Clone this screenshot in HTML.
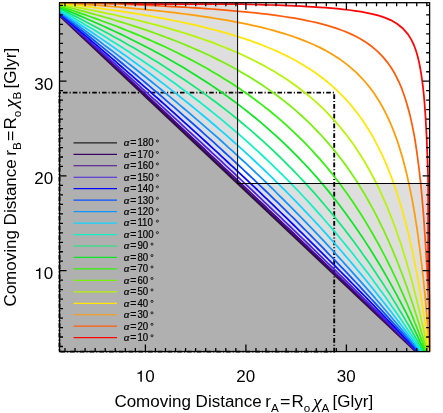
<!DOCTYPE html>
<html><head><meta charset="utf-8"><title>plot</title>
<style>html,body{margin:0;padding:0;background:#fff;width:443px;height:413px;overflow:hidden;font-family:"Liberation Sans",sans-serif}</style></head>
<body>
<svg width="443" height="413" viewBox="0 0 443 413" style="position:absolute;left:0;top:0;will-change:transform">
<defs><clipPath id="cp"><rect x="59.5" y="2.1" width="370.70" height="349.50"/></clipPath></defs>
<rect x="0" y="0" width="443" height="413" fill="#fff"/>
<g clip-path="url(#cp)">
<rect x="59.5" y="2.7" width="370.10" height="348.90" fill="#dedede"/>
<rect x="237.6" y="2.7" width="192.00" height="180.80" fill="#fff"/>
<polygon points="44.90,1.61 430.82,365.45 44.90,365.45" fill="#b0b0b0"/>
</g>
<path d="M59.5,92.6 H334.2 V351.6 H59.5 Z" fill="none" stroke="#000" stroke-width="1.9" stroke-dasharray="4.6,2.0,1.1,2.05" stroke-dashoffset="6.28"/>
<g clip-path="url(#cp)">
<path d="M44.9,1.6L430.8,365.4" fill="none" stroke="#202020" stroke-width="2.25" stroke-linejoin="round"/>
<path d="M48.1,4.6L51.3,7.6L54.6,10.7L57.8,13.7L61.0,16.7L64.2,19.7L67.5,22.7L70.7,25.7L73.9,28.8L77.1,31.8L80.3,34.8L83.6,37.8L86.8,40.8L90.0,43.9L93.2,46.9L96.5,49.9L99.7,52.9L102.9,55.9L106.1,59.0L109.4,62.0L112.6,65.0L115.8,68.0L119.0,71.0L122.2,74.1L125.5,77.1L128.7,80.1L131.9,83.1L135.1,86.2L138.4,89.2L141.6,92.2L144.8,95.2L148.0,98.3L151.2,101.3L154.5,104.3L157.7,107.3L160.9,110.4L164.1,113.4L167.4,116.4L170.6,119.5L173.8,122.5L177.0,125.5L180.2,128.5L183.5,131.6L186.7,134.6L189.9,137.6L193.1,140.7L196.4,143.7L199.6,146.7L202.8,149.8L206.0,152.8L209.2,155.8L212.5,158.9L215.7,161.9L218.9,164.9L222.1,168.0L225.4,171.0L228.6,174.0L231.8,177.1L235.0,180.1L238.3,183.2L241.5,186.2L244.7,189.2L247.9,192.3L251.1,195.3L254.4,198.4L257.6,201.4L260.8,204.4L264.0,207.5L267.2,210.5L270.5,213.5L273.7,216.6L276.9,219.6L280.1,222.7L283.3,225.7L286.5,228.7L289.8,231.8L293.0,234.8L296.2,237.8L299.4,240.9L302.6,243.9L305.8,247.0L309.0,250.0L312.2,253.0L315.5,256.1L318.7,259.1L321.9,262.2L325.1,265.2L328.3,268.2L331.5,271.3L334.7,274.3L337.9,277.3L341.1,280.4L344.3,283.4L347.6,286.5L350.8,289.5L354.0,292.5L357.2,295.6L360.4,298.6L363.6,301.6L366.8,304.7L370.0,307.7L373.2,310.8L376.4,313.8L379.6,316.8L382.8,319.9L386.0,322.9L389.2,326.0L392.4,329.0L395.6,332.0L398.8,335.1L402.0,338.1L405.2,341.1L408.4,344.2L411.6,347.2L414.8,350.3L418.0,353.3L421.2,356.3L424.4,359.4L427.6,362.4" fill="none" stroke="#390562" stroke-width="1.75" stroke-linejoin="round"/>
<path d="M48.1,4.6L51.4,7.5L54.6,10.5L57.9,13.5L61.1,16.4L64.4,19.4L67.6,22.4L70.8,25.4L74.1,28.3L77.3,31.3L80.6,34.3L83.8,37.3L87.0,40.3L90.3,43.2L93.5,46.2L96.8,49.2L100.0,52.2L103.3,55.2L106.5,58.2L109.7,61.1L113.0,64.1L116.2,67.1L119.5,70.1L122.7,73.1L126.0,76.1L129.2,79.1L132.4,82.1L135.7,85.1L138.9,88.1L142.2,91.1L145.4,94.1L148.6,97.1L151.9,100.2L155.1,103.2L158.4,106.2L161.6,109.2L164.9,112.2L168.1,115.2L171.3,118.2L174.6,121.3L177.8,124.3L181.1,127.3L184.3,130.3L187.6,133.4L190.8,136.4L194.0,139.4L197.3,142.5L200.5,145.5L203.8,148.5L207.0,151.6L210.2,154.6L213.5,157.7L216.7,160.7L220.0,163.7L223.2,166.8L226.5,169.8L229.7,172.9L232.9,175.9L236.2,179.0L239.4,182.1L242.7,185.1L245.9,188.2L249.1,191.2L252.4,194.3L255.6,197.3L258.8,200.4L262.1,203.4L265.3,206.5L268.5,209.6L271.8,212.6L275.0,215.7L278.2,218.7L281.4,221.8L284.6,224.8L287.9,227.9L291.1,231.0L294.3,234.0L297.5,237.1L300.7,240.1L303.9,243.2L307.1,246.2L310.3,249.3L313.5,252.4L316.7,255.4L319.9,258.5L323.1,261.5L326.3,264.6L329.5,267.6L332.7,270.7L335.9,273.8L339.1,276.8L342.2,279.9L345.4,282.9L348.6,286.0L351.8,289.0L355.0,292.1L358.1,295.1L361.3,298.2L364.5,301.3L367.7,304.3L370.8,307.4L374.0,310.4L377.2,313.5L380.3,316.5L383.5,319.6L386.7,322.7L389.8,325.7L393.0,328.8L396.2,331.8L399.3,334.9L402.5,337.9L405.6,341.0L408.8,344.1L411.9,347.1L415.1,350.2L418.2,353.2L421.4,356.3L424.5,359.3L427.7,362.4" fill="none" stroke="#480890" stroke-width="1.75" stroke-linejoin="round"/>
<path d="M48.2,4.5L51.5,7.4L54.7,10.3L58.0,13.2L61.3,16.0L64.6,18.9L67.8,21.8L71.1,24.7L74.4,27.6L77.7,30.6L80.9,33.5L84.2,36.4L87.5,39.3L90.8,42.2L94.0,45.1L97.3,48.0L100.6,51.0L103.9,53.9L107.1,56.8L110.4,59.8L113.7,62.7L117.0,65.7L120.2,68.6L123.5,71.6L126.8,74.5L130.1,77.5L133.3,80.4L136.6,83.4L139.9,86.4L143.2,89.3L146.4,92.3L149.7,95.3L153.0,98.3L156.3,101.2L159.5,104.2L162.8,107.2L166.1,110.2L169.4,113.2L172.6,116.2L175.9,119.2L179.2,122.2L182.5,125.3L185.7,128.3L189.0,131.3L192.3,134.3L195.6,137.3L198.8,140.4L202.1,143.4L205.4,146.5L208.7,149.5L211.9,152.6L215.2,155.6L218.5,158.7L221.8,161.7L225.0,164.8L228.3,167.9L231.6,170.9L234.9,174.0L238.1,177.1L241.4,180.2L244.7,183.3L248.0,186.4L251.2,189.4L254.5,192.5L257.7,195.6L261.0,198.7L264.2,201.8L267.5,204.9L270.7,208.0L274.0,211.1L277.2,214.1L280.4,217.2L283.6,220.3L286.8,223.4L290.1,226.5L293.3,229.6L296.5,232.7L299.7,235.8L302.9,238.8L306.1,241.9L309.3,245.0L312.4,248.1L315.6,251.2L318.8,254.3L322.0,257.4L325.1,260.5L328.3,263.6L331.5,266.6L334.6,269.7L337.8,272.8L340.9,275.9L344.1,279.0L347.2,282.1L350.4,285.2L353.5,288.3L356.6,291.3L359.8,294.4L362.9,297.5L366.0,300.6L369.1,303.7L372.2,306.8L375.3,309.9L378.5,313.0L381.6,316.0L384.7,319.1L387.8,322.2L390.9,325.3L393.9,328.4L397.0,331.5L400.1,334.6L403.2,337.7L406.3,340.7L409.4,343.8L412.4,346.9L415.5,350.0L418.6,353.1L421.6,356.2L424.7,359.3L427.8,362.4" fill="none" stroke="#4a22e0" stroke-width="1.75" stroke-linejoin="round"/>
<path d="M48.2,4.4L51.5,7.2L54.9,9.9L58.2,12.7L61.5,15.5L64.8,18.3L68.2,21.1L71.5,23.9L74.8,26.7L78.1,29.5L81.4,32.3L84.8,35.1L88.1,37.9L91.4,40.8L94.7,43.6L98.1,46.4L101.4,49.3L104.7,52.1L108.0,55.0L111.3,57.9L114.7,60.7L118.0,63.6L121.3,66.5L124.6,69.4L128.0,72.3L131.3,75.1L134.6,78.1L137.9,81.0L141.2,83.9L144.6,86.8L147.9,89.7L151.2,92.7L154.5,95.6L157.9,98.5L161.2,101.5L164.5,104.4L167.8,107.4L171.1,110.4L174.5,113.4L177.8,116.3L181.1,119.3L184.4,122.3L187.8,125.3L191.1,128.4L194.4,131.4L197.7,134.4L201.0,137.4L204.4,140.5L207.7,143.5L211.0,146.6L214.3,149.6L217.7,152.7L221.0,155.8L224.3,158.9L227.6,162.0L230.9,165.1L234.3,168.2L237.6,171.3L240.9,174.4L244.2,177.5L247.6,180.7L250.9,183.8L254.2,186.9L257.5,190.0L260.7,193.2L264.0,196.3L267.3,199.4L270.6,202.6L273.8,205.7L277.1,208.8L280.3,212.0L283.5,215.1L286.8,218.2L290.0,221.4L293.2,224.5L296.4,227.6L299.6,230.8L302.8,233.9L305.9,237.0L309.1,240.2L312.3,243.3L315.4,246.4L318.6,249.6L321.7,252.7L324.9,255.8L328.0,259.0L331.1,262.1L334.3,265.2L337.4,268.4L340.5,271.5L343.6,274.6L346.7,277.7L349.7,280.9L352.8,284.0L355.9,287.1L359.0,290.3L362.0,293.4L365.1,296.5L368.1,299.7L371.2,302.8L374.2,305.9L377.2,309.1L380.2,312.2L383.3,315.3L386.3,318.5L389.3,321.6L392.3,324.7L395.3,327.9L398.3,331.0L401.2,334.1L404.2,337.3L407.2,340.4L410.2,343.5L413.1,346.7L416.1,349.8L419.0,352.9L422.0,356.1L424.9,359.2L427.9,362.3" fill="none" stroke="#0606ff" stroke-width="1.75" stroke-linejoin="round"/>
<path d="M48.3,4.2L51.7,6.9L55.1,9.5L58.4,12.1L61.8,14.8L65.2,17.4L68.6,20.1L72.0,22.8L75.4,25.5L78.7,28.1L82.1,30.8L85.5,33.5L88.9,36.2L92.3,39.0L95.7,41.7L99.0,44.4L102.4,47.1L105.8,49.9L109.2,52.6L112.6,55.4L116.0,58.2L119.3,61.0L122.7,63.8L126.1,66.6L129.5,69.4L132.9,72.2L136.3,75.0L139.6,77.8L143.0,80.7L146.4,83.5L149.8,86.4L153.2,89.3L156.6,92.1L160.0,95.0L163.3,97.9L166.7,100.9L170.1,103.8L173.5,106.7L176.9,109.6L180.3,112.6L183.6,115.6L187.0,118.5L190.4,121.5L193.8,124.5L197.2,127.5L200.6,130.5L203.9,133.6L207.3,136.6L210.7,139.7L214.1,142.7L217.5,145.8L220.9,148.9L224.2,152.0L227.6,155.1L231.0,158.2L234.4,161.4L237.8,164.5L241.2,167.7L244.6,170.8L247.9,174.0L251.3,177.2L254.7,180.4L258.0,183.6L261.4,186.8L264.7,190.0L268.0,193.2L271.3,196.4L274.6,199.6L277.9,202.7L281.1,205.9L284.4,209.1L287.6,212.3L290.8,215.5L294.1,218.7L297.3,221.9L300.4,225.1L303.6,228.3L306.8,231.5L309.9,234.6L313.1,237.8L316.2,241.0L319.3,244.2L322.5,247.4L325.6,250.6L328.6,253.8L331.7,257.0L334.8,260.2L337.8,263.4L340.9,266.6L343.9,269.7L347.0,272.9L350.0,276.1L353.0,279.3L356.0,282.5L359.0,285.7L361.9,288.9L364.9,292.1L367.9,295.3L370.8,298.5L373.8,301.6L376.7,304.8L379.6,308.0L382.5,311.2L385.4,314.4L388.3,317.6L391.2,320.8L394.1,324.0L397.0,327.2L399.8,330.4L402.7,333.5L405.5,336.7L408.4,339.9L411.2,343.1L414.0,346.3L416.8,349.5L419.6,352.7L422.5,355.9L425.2,359.1L428.0,362.3" fill="none" stroke="#0c52ff" stroke-width="1.75" stroke-linejoin="round"/>
<path d="M48.4,4.1L51.8,6.5L55.3,9.0L58.7,11.5L62.2,14.0L65.7,16.4L69.1,19.0L72.6,21.5L76.1,24.0L79.5,26.5L83.0,29.1L86.4,31.6L89.9,34.2L93.4,36.8L96.8,39.3L100.3,41.9L103.7,44.6L107.2,47.2L110.7,49.8L114.1,52.4L117.6,55.1L121.0,57.8L124.5,60.4L128.0,63.1L131.4,65.8L134.9,68.5L138.4,71.3L141.8,74.0L145.3,76.8L148.7,79.5L152.2,82.3L155.7,85.1L159.1,87.9L162.6,90.7L166.0,93.6L169.5,96.4L173.0,99.3L176.4,102.2L179.9,105.1L183.3,108.0L186.8,110.9L190.3,113.8L193.7,116.8L197.2,119.8L200.7,122.8L204.1,125.8L207.6,128.8L211.0,131.8L214.5,134.9L218.0,137.9L221.4,141.0L224.9,144.1L228.3,147.3L231.8,150.4L235.3,153.6L238.7,156.8L242.2,160.0L245.7,163.2L249.1,166.4L252.6,169.7L256.0,172.9L259.5,176.2L262.9,179.4L266.3,182.7L269.6,186.0L273.0,189.2L276.3,192.5L279.6,195.8L282.9,199.0L286.2,202.3L289.5,205.6L292.7,208.8L295.9,212.1L299.1,215.3L302.3,218.6L305.5,221.9L308.6,225.1L311.8,228.4L314.9,231.7L318.0,234.9L321.1,238.2L324.2,241.4L327.2,244.7L330.3,248.0L333.3,251.2L336.3,254.5L339.3,257.8L342.3,261.0L345.2,264.3L348.2,267.6L351.1,270.8L354.0,274.1L356.9,277.3L359.8,280.6L362.7,283.9L365.6,287.1L368.4,290.4L371.3,293.7L374.1,296.9L376.9,300.2L379.7,303.4L382.5,306.7L385.3,310.0L388.0,313.2L390.8,316.5L393.5,319.8L396.3,323.0L399.0,326.3L401.7,329.6L404.4,332.8L407.1,336.1L409.8,339.3L412.4,342.6L415.1,345.9L417.7,349.1L420.4,352.4L423.0,355.7L425.6,358.9L428.2,362.2" fill="none" stroke="#1294ff" stroke-width="1.75" stroke-linejoin="round"/>
<path d="M48.5,3.9L52.0,6.1L55.6,8.4L59.1,10.7L62.7,13.0L66.2,15.3L69.8,17.6L73.3,20.0L76.9,22.3L80.5,24.7L84.0,27.0L87.6,29.4L91.1,31.8L94.7,34.2L98.2,36.6L101.8,39.1L105.3,41.5L108.9,44.0L112.5,46.5L116.0,49.0L119.6,51.5L123.1,54.0L126.7,56.5L130.2,59.1L133.8,61.7L137.3,64.3L140.9,66.9L144.5,69.5L148.0,72.1L151.6,74.8L155.1,77.5L158.7,80.2L162.2,82.9L165.8,85.6L169.3,88.4L172.9,91.1L176.5,93.9L180.0,96.7L183.6,99.6L187.1,102.4L190.7,105.3L194.2,108.2L197.8,111.1L201.3,114.0L204.9,117.0L208.5,120.0L212.0,123.0L215.6,126.0L219.1,129.1L222.7,132.1L226.2,135.2L229.8,138.4L233.3,141.5L236.9,144.7L240.4,147.9L244.0,151.1L247.6,154.4L251.1,157.7L254.7,161.0L258.2,164.3L261.8,167.7L265.3,171.0L268.8,174.4L272.2,177.7L275.6,181.1L279.0,184.4L282.4,187.8L285.8,191.1L289.1,194.5L292.4,197.8L295.6,201.2L298.9,204.6L302.1,207.9L305.3,211.3L308.4,214.6L311.6,218.0L314.7,221.3L317.8,224.7L320.9,228.0L323.9,231.4L326.9,234.7L329.9,238.1L332.9,241.4L335.9,244.8L338.8,248.1L341.7,251.5L344.6,254.8L347.5,258.2L350.4,261.5L353.2,264.9L356.0,268.2L358.8,271.6L361.6,274.9L364.4,278.3L367.1,281.6L369.8,285.0L372.6,288.4L375.3,291.7L377.9,295.1L380.6,298.4L383.2,301.8L385.9,305.1L388.5,308.5L391.1,311.8L393.7,315.2L396.2,318.5L398.8,321.9L401.3,325.2L403.9,328.6L406.4,331.9L408.9,335.3L411.4,338.6L413.8,342.0L416.3,345.3L418.7,348.7L421.2,352.0L423.6,355.4L426.0,358.7L428.4,362.1" fill="none" stroke="#10d4ff" stroke-width="1.75" stroke-linejoin="round"/>
<path d="M48.6,3.6L52.2,5.7L55.9,7.8L59.6,9.8L63.2,11.9L66.9,14.0L70.6,16.1L74.2,18.3L77.9,20.4L81.6,22.6L85.2,24.7L88.9,26.9L92.6,29.1L96.3,31.3L99.9,33.6L103.6,35.8L107.3,38.1L110.9,40.4L114.6,42.7L118.3,45.0L121.9,47.3L125.6,49.7L129.3,52.1L132.9,54.5L136.6,56.9L140.3,59.3L143.9,61.8L147.6,64.3L151.3,66.8L154.9,69.3L158.6,71.9L162.3,74.4L165.9,77.0L169.6,79.7L173.3,82.3L177.0,85.0L180.6,87.7L184.3,90.4L188.0,93.1L191.6,95.9L195.3,98.7L199.0,101.5L202.6,104.4L206.3,107.3L210.0,110.2L213.6,113.1L217.3,116.1L221.0,119.1L224.6,122.2L228.3,125.3L232.0,128.4L235.6,131.5L239.3,134.7L243.0,137.9L246.6,141.1L250.3,144.4L254.0,147.8L257.7,151.1L261.3,154.5L265.0,158.0L268.6,161.4L272.2,164.9L275.8,168.3L279.3,171.8L282.8,175.2L286.3,178.7L289.7,182.2L293.0,185.6L296.4,189.1L299.7,192.5L302.9,196.0L306.2,199.5L309.4,202.9L312.5,206.4L315.6,209.8L318.7,213.3L321.8,216.7L324.8,220.2L327.8,223.7L330.8,227.1L333.7,230.6L336.7,234.0L339.5,237.5L342.4,241.0L345.2,244.4L348.0,247.9L350.8,251.3L353.6,254.8L356.3,258.2L359.0,261.7L361.7,265.2L364.3,268.6L367.0,272.1L369.6,275.5L372.2,279.0L374.7,282.5L377.3,285.9L379.8,289.4L382.3,292.8L384.8,296.3L387.3,299.7L389.7,303.2L392.1,306.7L394.5,310.1L396.9,313.6L399.3,317.0L401.6,320.5L404.0,324.0L406.3,327.4L408.6,330.9L410.9,334.3L413.2,337.8L415.4,341.2L417.7,344.7L419.9,348.2L422.1,351.6L424.3,355.1L426.5,358.5L428.7,362.0" fill="none" stroke="#10f0c6" stroke-width="1.75" stroke-linejoin="round"/>
<path d="M48.7,3.4L52.5,5.2L56.3,7.0L60.1,8.9L63.9,10.7L67.7,12.6L71.5,14.5L75.3,16.4L79.1,18.3L82.9,20.3L86.7,22.2L90.5,24.2L94.3,26.2L98.1,28.2L101.9,30.2L105.7,32.2L109.5,34.3L113.3,36.4L117.1,38.5L120.9,40.6L124.7,42.8L128.5,44.9L132.3,47.1L136.1,49.3L139.9,51.6L143.7,53.8L147.5,56.1L151.3,58.4L155.1,60.8L158.9,63.1L162.7,65.5L166.5,67.9L170.3,70.4L174.1,72.9L177.9,75.4L181.7,77.9L185.5,80.5L189.3,83.1L193.1,85.7L196.9,88.4L200.7,91.1L204.5,93.9L208.3,96.6L212.1,99.5L215.9,102.3L219.8,105.2L223.6,108.1L227.4,111.1L231.2,114.1L235.0,117.2L238.8,120.3L242.6,123.5L246.4,126.7L250.2,129.9L254.0,133.2L257.8,136.5L261.6,139.9L265.4,143.4L269.2,146.9L273.0,150.4L276.7,154.0L280.5,157.6L284.1,161.2L287.7,164.8L291.3,168.4L294.7,171.9L298.2,175.5L301.6,179.1L304.9,182.7L308.2,186.3L311.5,189.9L314.7,193.4L317.8,197.0L320.9,200.6L324.0,204.2L327.0,207.8L330.0,211.4L333.0,214.9L335.9,218.5L338.7,222.1L341.6,225.7L344.4,229.3L347.1,232.9L349.9,236.4L352.6,240.0L355.2,243.6L357.9,247.2L360.5,250.8L363.0,254.4L365.6,257.9L368.1,261.5L370.6,265.1L373.0,268.7L375.4,272.3L377.8,275.9L380.2,279.4L382.6,283.0L384.9,286.6L387.2,290.2L389.5,293.8L391.7,297.4L393.9,300.9L396.2,304.5L398.3,308.1L400.5,311.7L402.7,315.3L404.8,318.9L406.9,322.4L409.0,326.0L411.0,329.6L413.1,333.2L415.1,336.8L417.1,340.4L419.1,343.9L421.1,347.5L423.1,351.1L425.1,354.7L427.0,358.3L428.9,361.9" fill="none" stroke="#0eea7a" stroke-width="1.75" stroke-linejoin="round"/>
<path d="M48.9,3.2L52.8,4.7L56.8,6.3L60.7,7.9L64.7,9.5L68.6,11.1L72.6,12.8L76.6,14.4L80.5,16.1L84.5,17.8L88.4,19.5L92.4,21.2L96.3,23.0L100.3,24.8L104.2,26.5L108.2,28.4L112.2,30.2L116.1,32.0L120.1,33.9L124.0,35.8L128.0,37.7L131.9,39.7L135.9,41.7L139.9,43.7L143.8,45.7L147.8,47.8L151.7,49.8L155.7,52.0L159.6,54.1L163.6,56.3L167.6,58.5L171.5,60.7L175.5,63.0L179.4,65.3L183.4,67.6L187.3,70.0L191.3,72.4L195.3,74.9L199.2,77.4L203.2,79.9L207.1,82.5L211.1,85.1L215.0,87.8L219.0,90.5L222.9,93.3L226.9,96.1L230.9,99.0L234.8,101.9L238.8,104.9L242.7,107.9L246.7,111.0L250.6,114.1L254.6,117.3L258.6,120.6L262.5,123.9L266.5,127.3L270.4,130.8L274.4,134.3L278.3,137.9L282.3,141.6L286.2,145.4L290.0,149.1L293.8,152.8L297.5,156.6L301.1,160.3L304.6,164.0L308.1,167.7L311.5,171.5L314.8,175.2L318.1,178.9L321.3,182.7L324.5,186.4L327.6,190.1L330.6,193.9L333.6,197.6L336.5,201.3L339.4,205.0L342.2,208.8L345.0,212.5L347.7,216.2L350.4,220.0L353.1,223.7L355.7,227.4L358.3,231.2L360.8,234.9L363.3,238.6L365.7,242.4L368.1,246.1L370.5,249.8L372.8,253.5L375.1,257.3L377.4,261.0L379.7,264.7L381.9,268.5L384.1,272.2L386.2,275.9L388.3,279.7L390.4,283.4L392.5,287.1L394.5,290.8L396.6,294.6L398.5,298.3L400.5,302.0L402.5,305.8L404.4,309.5L406.3,313.2L408.2,317.0L410.0,320.7L411.8,324.4L413.7,328.1L415.5,331.9L417.2,335.6L419.0,339.3L420.7,343.1L422.5,346.8L424.2,350.5L425.8,354.3L427.5,358.0L429.2,361.7" fill="none" stroke="#0ce624" stroke-width="1.75" stroke-linejoin="round"/>
<path d="M49.0,2.9L53.2,4.2L57.3,5.5L61.4,6.9L65.6,8.2L69.7,9.6L73.9,11.0L78.0,12.4L82.1,13.8L86.3,15.2L90.4,16.7L94.5,18.1L98.7,19.6L102.8,21.2L107.0,22.7L111.1,24.2L115.2,25.8L119.4,27.4L123.5,29.1L127.6,30.7L131.8,32.4L135.9,34.1L140.1,35.8L144.2,37.6L148.3,39.4L152.5,41.2L156.6,43.1L160.7,44.9L164.9,46.8L169.0,48.8L173.2,50.8L177.3,52.8L181.4,54.9L185.6,57.0L189.7,59.1L193.8,61.3L198.0,63.5L202.1,65.8L206.3,68.1L210.4,70.5L214.5,72.9L218.7,75.3L222.8,77.9L226.9,80.4L231.1,83.1L235.2,85.8L239.4,88.5L243.5,91.4L247.6,94.3L251.8,97.2L255.9,100.3L260.0,103.4L264.2,106.6L268.3,109.8L272.5,113.2L276.6,116.6L280.7,120.2L284.9,123.8L289.0,127.6L293.1,131.4L297.2,135.3L301.2,139.2L305.1,143.1L308.8,147.0L312.5,150.9L316.0,154.8L319.5,158.7L322.9,162.6L326.2,166.5L329.4,170.4L332.6,174.3L335.6,178.2L338.6,182.1L341.5,186.0L344.4,189.9L347.2,193.8L349.9,197.7L352.6,201.6L355.2,205.5L357.8,209.4L360.3,213.3L362.8,217.2L365.2,221.1L367.5,225.0L369.8,228.9L372.1,232.8L374.3,236.7L376.5,240.6L378.7,244.5L380.8,248.4L382.8,252.3L384.9,256.2L386.9,260.1L388.8,264.0L390.8,267.9L392.7,271.8L394.5,275.7L396.4,279.6L398.2,283.5L399.9,287.4L401.7,291.3L403.4,295.2L405.1,299.1L406.8,303.0L408.5,306.9L410.1,310.8L411.7,314.7L413.3,318.6L414.8,322.5L416.4,326.4L417.9,330.3L419.4,334.2L420.9,338.1L422.4,342.0L423.8,345.9L425.3,349.8L426.7,353.7L428.1,357.6L429.5,361.5" fill="none" stroke="#34f00c" stroke-width="1.75" stroke-linejoin="round"/>
<path d="M49.2,2.6L53.6,3.7L57.9,4.7L62.3,5.8L66.6,6.9L71.0,8.0L75.3,9.1L79.7,10.3L84.0,11.4L88.4,12.6L92.7,13.8L97.1,15.0L101.4,16.2L105.8,17.5L110.1,18.7L114.4,20.0L118.8,21.3L123.1,22.7L127.5,24.0L131.8,25.4L136.2,26.8L140.5,28.2L144.9,29.7L149.2,31.2L153.6,32.7L157.9,34.3L162.3,35.9L166.6,37.5L171.0,39.1L175.3,40.8L179.6,42.5L184.0,44.3L188.3,46.1L192.7,48.0L197.0,49.9L201.4,51.8L205.7,53.8L210.1,55.8L214.4,57.9L218.8,60.1L223.1,62.3L227.5,64.5L231.8,66.8L236.2,69.2L240.5,71.7L244.8,74.2L249.2,76.8L253.5,79.5L257.9,82.3L262.2,85.1L266.6,88.1L270.9,91.1L275.3,94.2L279.6,97.5L284.0,100.9L288.3,104.3L292.7,107.9L297.0,111.7L301.4,115.5L305.7,119.6L310.0,123.7L314.1,127.8L318.0,131.9L321.9,136.0L325.6,140.1L329.1,144.2L332.6,148.3L335.9,152.4L339.1,156.5L342.2,160.5L345.3,164.6L348.2,168.7L351.0,172.8L353.8,176.9L356.5,181.0L359.1,185.1L361.6,189.2L364.1,193.3L366.5,197.4L368.8,201.5L371.1,205.6L373.3,209.7L375.5,213.8L377.6,217.9L379.6,222.0L381.6,226.1L383.6,230.2L385.5,234.3L387.4,238.4L389.2,242.5L391.0,246.6L392.8,250.7L394.5,254.8L396.2,258.9L397.8,263.0L399.4,267.1L401.0,271.2L402.6,275.3L404.1,279.4L405.6,283.5L407.1,287.6L408.5,291.7L409.9,295.8L411.3,299.9L412.7,304.0L414.0,308.1L415.3,312.2L416.6,316.3L417.9,320.4L419.2,324.5L420.4,328.6L421.6,332.7L422.8,336.8L424.0,340.9L425.2,345.0L426.4,349.1L427.5,353.2L428.6,357.3L429.7,361.4" fill="none" stroke="#7af008" stroke-width="1.75" stroke-linejoin="round"/>
<path d="M49.5,2.4L54.1,3.2L58.7,4.0L63.3,4.8L67.8,5.6L72.4,6.5L77.0,7.3L81.6,8.2L86.2,9.1L90.8,10.0L95.4,10.9L100.0,11.8L104.5,12.8L109.1,13.8L113.7,14.7L118.3,15.8L122.9,16.8L127.5,17.8L132.1,18.9L136.7,20.0L141.2,21.1L145.8,22.3L150.4,23.5L155.0,24.7L159.6,25.9L164.2,27.1L168.8,28.4L173.4,29.8L178.0,31.1L182.5,32.5L187.1,33.9L191.7,35.4L196.3,36.9L200.9,38.5L205.5,40.1L210.1,41.7L214.7,43.4L219.2,45.2L223.8,47.0L228.4,48.9L233.0,50.8L237.6,52.8L242.2,54.8L246.8,57.0L251.4,59.2L255.9,61.5L260.5,63.9L265.1,66.3L269.7,68.9L274.3,71.6L278.9,74.4L283.5,77.3L288.1,80.3L292.7,83.5L297.2,86.8L301.8,90.2L306.4,93.9L311.0,97.7L315.6,101.7L320.2,105.9L324.7,110.2L328.9,114.6L332.9,118.9L336.8,123.2L340.5,127.5L344.0,131.9L347.4,136.2L350.6,140.5L353.7,144.8L356.6,149.2L359.4,153.5L362.2,157.8L364.8,162.1L367.3,166.5L369.8,170.8L372.1,175.1L374.4,179.5L376.6,183.8L378.7,188.1L380.7,192.4L382.7,196.8L384.6,201.1L386.5,205.4L388.3,209.7L390.0,214.1L391.7,218.4L393.4,222.7L395.0,227.0L396.5,231.4L398.0,235.7L399.5,240.0L401.0,244.3L402.4,248.7L403.7,253.0L405.1,257.3L406.4,261.6L407.6,266.0L408.9,270.3L410.1,274.6L411.3,278.9L412.5,283.3L413.6,287.6L414.7,291.9L415.8,296.2L416.9,300.6L417.9,304.9L419.0,309.2L420.0,313.5L421.0,317.9L421.9,322.2L422.9,326.5L423.8,330.8L424.8,335.2L425.7,339.5L426.6,343.8L427.4,348.1L428.3,352.5L429.2,356.8L430.0,361.1" fill="none" stroke="#b6f406" stroke-width="1.75" stroke-linejoin="round"/>
<path d="M49.8,2.2L54.6,2.7L59.5,3.3L64.4,3.8L69.2,4.4L74.1,5.0L79.0,5.6L83.8,6.2L88.7,6.9L93.6,7.5L98.4,8.1L103.3,8.8L108.2,9.5L113.0,10.2L117.9,10.9L122.7,11.6L127.6,12.4L132.5,13.2L137.3,13.9L142.2,14.7L147.1,15.6L151.9,16.4L156.8,17.3L161.7,18.2L166.5,19.1L171.4,20.1L176.3,21.0L181.1,22.0L186.0,23.1L190.9,24.1L195.7,25.2L200.6,26.4L205.5,27.6L210.3,28.8L215.2,30.0L220.1,31.3L224.9,32.7L229.8,34.1L234.7,35.6L239.5,37.1L244.4,38.7L249.3,40.3L254.1,42.1L259.0,43.9L263.8,45.7L268.7,47.7L273.6,49.8L278.4,51.9L283.3,54.2L288.2,56.6L293.0,59.2L297.9,61.8L302.8,64.7L307.6,67.7L312.5,70.8L317.4,74.2L322.2,77.8L327.1,81.7L332.0,85.8L336.8,90.2L341.5,94.8L345.9,99.4L350.0,104.0L353.8,108.6L357.4,113.2L360.8,117.7L363.9,122.3L366.9,126.9L369.8,131.5L372.5,136.1L375.0,140.7L377.4,145.3L379.7,149.9L381.9,154.4L384.0,159.0L386.0,163.6L387.9,168.2L389.7,172.8L391.5,177.4L393.2,182.0L394.8,186.6L396.3,191.1L397.8,195.7L399.3,200.3L400.7,204.9L402.0,209.5L403.3,214.1L404.5,218.7L405.8,223.2L406.9,227.8L408.1,232.4L409.2,237.0L410.2,241.6L411.3,246.2L412.3,250.8L413.2,255.4L414.2,259.9L415.1,264.5L416.0,269.1L416.9,273.7L417.7,278.3L418.6,282.9L419.4,287.5L420.2,292.1L421.0,296.6L421.7,301.2L422.5,305.8L423.2,310.4L423.9,315.0L424.6,319.6L425.3,324.2L425.9,328.8L426.6,333.3L427.2,337.9L427.8,342.5L428.5,347.1L429.1,351.7L429.7,356.3L430.2,360.9" fill="none" stroke="#ffe606" stroke-width="1.75" stroke-linejoin="round"/>
<path d="M50.1,1.9L55.3,2.3L60.5,2.6L65.6,3.0L70.8,3.3L76.0,3.7L81.2,4.1L86.4,4.5L91.6,4.8L96.7,5.2L101.9,5.7L107.1,6.1L112.3,6.5L117.5,6.9L122.7,7.4L127.8,7.9L133.0,8.3L138.2,8.8L143.4,9.3L148.6,9.9L153.8,10.4L158.9,10.9L164.1,11.5L169.3,12.1L174.5,12.7L179.7,13.3L184.9,14.0L190.0,14.7L195.2,15.4L200.4,16.1L205.6,16.9L210.8,17.6L216.0,18.5L221.2,19.3L226.3,20.2L231.5,21.1L236.7,22.1L241.9,23.1L247.1,24.2L252.3,25.3L257.4,26.4L262.6,27.7L267.8,29.0L273.0,30.3L278.2,31.8L283.4,33.3L288.5,35.0L293.7,36.7L298.9,38.6L304.1,40.6L309.3,42.7L314.5,45.0L319.6,47.4L324.8,50.1L330.0,53.0L335.2,56.2L340.4,59.6L345.6,63.4L350.7,67.6L355.9,72.2L360.8,77.1L365.3,82.0L369.3,86.9L373.0,91.8L376.3,96.7L379.4,101.5L382.2,106.4L384.8,111.3L387.2,116.2L389.5,121.1L391.6,126.0L393.6,130.9L395.4,135.7L397.2,140.6L398.8,145.5L400.3,150.4L401.8,155.3L403.2,160.2L404.5,165.1L405.7,170.0L406.9,174.8L408.0,179.7L409.1,184.6L410.1,189.5L411.1,194.4L412.1,199.3L413.0,204.2L413.8,209.1L414.7,213.9L415.5,218.8L416.2,223.7L417.0,228.6L417.7,233.5L418.4,238.4L419.0,243.3L419.7,248.2L420.3,253.0L420.9,257.9L421.5,262.8L422.1,267.7L422.6,272.6L423.2,277.5L423.7,282.4L424.2,287.3L424.7,292.1L425.2,297.0L425.6,301.9L426.1,306.8L426.5,311.7L427.0,316.6L427.4,321.5L427.8,326.4L428.2,331.2L428.6,336.1L429.0,341.0L429.4,345.9L429.7,350.8L430.1,355.7L430.5,360.6" fill="none" stroke="#ff9c06" stroke-width="1.75" stroke-linejoin="round"/>
<path d="M50.4,1.8L56.0,1.9L61.5,2.1L67.1,2.3L72.6,2.4L78.2,2.6L83.7,2.8L89.3,3.0L94.8,3.2L100.4,3.4L105.9,3.6L111.5,3.8L117.0,4.0L122.6,4.2L128.1,4.5L133.7,4.7L139.2,4.9L144.8,5.2L150.3,5.4L155.9,5.7L161.4,6.0L167.0,6.3L172.5,6.6L178.0,6.9L183.6,7.2L189.1,7.5L194.7,7.9L200.2,8.2L205.8,8.6L211.3,9.0L216.9,9.4L222.4,9.8L228.0,10.3L233.5,10.8L239.1,11.3L244.6,11.8L250.2,12.3L255.7,12.9L261.3,13.6L266.8,14.2L272.4,14.9L277.9,15.7L283.5,16.5L289.0,17.3L294.6,18.2L300.1,19.2L305.6,20.3L311.2,21.5L316.7,22.7L322.3,24.1L327.8,25.6L333.4,27.3L338.9,29.2L344.5,31.3L350.0,33.6L355.6,36.3L361.1,39.3L366.7,42.8L372.2,46.8L377.8,51.6L382.9,56.9L387.2,62.1L390.9,67.3L394.1,72.5L396.9,77.8L399.4,83.0L401.6,88.2L403.5,93.5L405.3,98.7L406.9,103.9L408.4,109.2L409.8,114.4L411.0,119.6L412.1,124.9L413.2,130.1L414.2,135.3L415.1,140.5L415.9,145.8L416.7,151.0L417.4,156.2L418.1,161.5L418.8,166.7L419.4,171.9L420.0,177.2L420.6,182.4L421.1,187.6L421.6,192.8L422.1,198.1L422.5,203.3L423.0,208.5L423.4,213.8L423.8,219.0L424.2,224.2L424.5,229.5L424.9,234.7L425.2,239.9L425.6,245.2L425.9,250.4L426.2,255.6L426.5,260.8L426.8,266.1L427.0,271.3L427.3,276.5L427.6,281.8L427.8,287.0L428.0,292.2L428.3,297.5L428.5,302.7L428.7,307.9L428.9,313.1L429.1,318.4L429.4,323.6L429.6,328.8L429.7,334.1L429.9,339.3L430.1,344.5L430.3,349.8L430.5,355.0L430.7,360.2" fill="none" stroke="#ff5c0c" stroke-width="1.75" stroke-linejoin="round"/>
<path d="M50.9,1.7L56.8,1.7L62.8,1.7L68.7,1.8L74.7,1.8L80.7,1.9L86.6,1.9L92.6,2.0L98.6,2.0L104.5,2.1L110.5,2.2L116.4,2.3L122.4,2.8L128.4,3.3L134.3,3.7L140.3,4.1L146.3,4.1L152.2,4.1L158.2,4.1L164.1,4.1L170.1,4.1L176.1,4.1L182.0,4.1L188.0,4.1L194.0,4.1L199.9,4.1L205.9,4.1L211.8,4.1L217.8,4.1L223.8,4.1L229.7,4.1L235.7,4.1L241.7,4.1L247.6,4.3L253.6,4.5L259.5,4.6L265.5,4.8L271.5,5.0L277.4,5.2L283.4,5.4L289.4,5.7L295.3,5.9L301.3,6.2L307.2,6.6L313.2,6.9L319.2,7.3L325.1,7.7L331.1,8.2L337.1,8.7L343.0,9.3L349.0,10.0L354.9,10.8L360.9,11.7L366.9,12.8L372.8,14.1L378.8,15.6L384.8,17.6L390.7,20.1L396.7,23.5L402.6,28.2L407.6,33.8L411.2,39.4L413.9,45.0L416.0,50.7L417.6,56.3L419.0,61.9L420.1,67.5L421.1,73.1L421.9,78.8L422.7,84.4L423.3,90.0L423.9,95.6L424.4,101.3L424.8,106.9L425.2,112.5L425.6,118.1L425.9,123.7L426.2,129.4L426.5,135.0L426.8,140.6L427.0,146.2L427.2,151.8L427.4,157.5L427.6,163.1L427.8,168.7L428.0,174.3L428.1,179.9L428.2,185.6L428.2,191.2L428.2,196.8L428.2,202.4L428.2,208.1L428.2,213.7L428.2,219.3L428.2,224.9L428.2,230.5L428.2,236.2L428.2,241.8L428.2,247.4L428.2,253.0L428.2,258.6L428.2,264.3L428.2,269.9L428.2,275.5L428.6,281.1L429.1,286.8L429.6,292.4L430.1,298.0L430.2,303.6L430.3,309.2L430.4,314.9L430.4,320.5L430.5,326.1L430.5,331.7L430.6,337.3L430.6,343.0L430.7,348.6L430.7,354.2L430.8,359.8" fill="none" stroke="#ff0404" stroke-width="1.75" stroke-linejoin="round"/>
<path d="M237.6,2.7 V183.5 H429.6" fill="none" stroke="#000" stroke-width="1.0"/>
</g>
<rect x="59.5" y="2.7" width="370.10" height="348.90" fill="none" stroke="#000" stroke-width="1.3"/>
<path d="M65.00,351.6v-3.5M65.00,2.7v3.5M59.5,346.50h3.5M429.6,346.50h-3.5M75.05,351.6v-3.5M75.05,2.7v3.5M59.5,337.02h3.5M429.6,337.02h-3.5M85.10,351.6v-3.5M85.10,2.7v3.5M59.5,327.55h3.5M429.6,327.55h-3.5M95.15,351.6v-3.5M95.15,2.7v3.5M59.5,318.07h3.5M429.6,318.07h-3.5M105.20,351.6v-3.5M105.20,2.7v3.5M59.5,308.60h3.5M429.6,308.60h-3.5M115.25,351.6v-3.5M115.25,2.7v3.5M59.5,299.12h3.5M429.6,299.12h-3.5M125.30,351.6v-3.5M125.30,2.7v3.5M59.5,289.65h3.5M429.6,289.65h-3.5M135.35,351.6v-3.5M135.35,2.7v3.5M59.5,280.17h3.5M429.6,280.17h-3.5M145.40,351.6v-7.0M145.40,2.7v7.0M59.5,270.70h7.0M429.6,270.70h-7.0M155.45,351.6v-3.5M155.45,2.7v3.5M59.5,261.22h3.5M429.6,261.22h-3.5M165.50,351.6v-3.5M165.50,2.7v3.5M59.5,251.75h3.5M429.6,251.75h-3.5M175.55,351.6v-3.5M175.55,2.7v3.5M59.5,242.28h3.5M429.6,242.28h-3.5M185.60,351.6v-3.5M185.60,2.7v3.5M59.5,232.80h3.5M429.6,232.80h-3.5M195.65,351.6v-3.5M195.65,2.7v3.5M59.5,223.32h3.5M429.6,223.32h-3.5M205.70,351.6v-3.5M205.70,2.7v3.5M59.5,213.85h3.5M429.6,213.85h-3.5M215.75,351.6v-3.5M215.75,2.7v3.5M59.5,204.38h3.5M429.6,204.38h-3.5M225.80,351.6v-3.5M225.80,2.7v3.5M59.5,194.90h3.5M429.6,194.90h-3.5M235.85,351.6v-3.5M235.85,2.7v3.5M59.5,185.43h3.5M429.6,185.43h-3.5M245.90,351.6v-7.0M245.90,2.7v7.0M59.5,175.95h7.0M429.6,175.95h-7.0M255.95,351.6v-3.5M255.95,2.7v3.5M59.5,166.47h3.5M429.6,166.47h-3.5M266.00,351.6v-3.5M266.00,2.7v3.5M59.5,157.00h3.5M429.6,157.00h-3.5M276.05,351.6v-3.5M276.05,2.7v3.5M59.5,147.53h3.5M429.6,147.53h-3.5M286.10,351.6v-3.5M286.10,2.7v3.5M59.5,138.05h3.5M429.6,138.05h-3.5M296.15,351.6v-3.5M296.15,2.7v3.5M59.5,128.57h3.5M429.6,128.57h-3.5M306.20,351.6v-3.5M306.20,2.7v3.5M59.5,119.10h3.5M429.6,119.10h-3.5M316.25,351.6v-3.5M316.25,2.7v3.5M59.5,109.62h3.5M429.6,109.62h-3.5M326.30,351.6v-3.5M326.30,2.7v3.5M59.5,100.15h3.5M429.6,100.15h-3.5M336.35,351.6v-3.5M336.35,2.7v3.5M59.5,90.67h3.5M429.6,90.67h-3.5M346.40,351.6v-7.0M346.40,2.7v7.0M59.5,81.20h7.0M429.6,81.20h-7.0M356.45,351.6v-3.5M356.45,2.7v3.5M59.5,71.73h3.5M429.6,71.73h-3.5M366.50,351.6v-3.5M366.50,2.7v3.5M59.5,62.25h3.5M429.6,62.25h-3.5M376.55,351.6v-3.5M376.55,2.7v3.5M59.5,52.77h3.5M429.6,52.77h-3.5M386.60,351.6v-3.5M386.60,2.7v3.5M59.5,43.30h3.5M429.6,43.30h-3.5M396.65,351.6v-3.5M396.65,2.7v3.5M59.5,33.82h3.5M429.6,33.82h-3.5M406.70,351.6v-3.5M406.70,2.7v3.5M59.5,24.35h3.5M429.6,24.35h-3.5M416.75,351.6v-3.5M416.75,2.7v3.5M59.5,14.88h3.5M429.6,14.88h-3.5M426.80,351.6v-3.5M426.80,2.7v3.5M59.5,5.40h3.5M429.6,5.40h-3.5" fill="none" stroke="#000" stroke-width="1.3"/>
<line x1="73.5" y1="142.85" x2="117.0" y2="142.85" stroke="#202020" stroke-width="1.2"/>
<text transform="translate(123.7,146.25) scale(1.14,1)" font-family="Liberation Sans, sans-serif" font-style="italic" font-size="8.6" fill="#000" stroke="#000" stroke-width="0.2">α</text>
<g transform="translate(130.15,146.25) scale(0.93,1)"><text font-family="Liberation Sans, sans-serif" font-size="10.4" fill="#000" stroke="#000" stroke-width="0.2"><tspan font-size="11.4">=</tspan><tspan dx="1.2">180</tspan></text></g>
<circle cx="157.40" cy="140.95" r="1.05" fill="none" stroke="#000" stroke-width="0.75"/>
<line x1="73.5" y1="154.31" x2="117.0" y2="154.31" stroke="#390562" stroke-width="1.2"/>
<text transform="translate(123.7,157.71) scale(1.14,1)" font-family="Liberation Sans, sans-serif" font-style="italic" font-size="8.6" fill="#000" stroke="#000" stroke-width="0.2">α</text>
<g transform="translate(130.15,157.71) scale(0.93,1)"><text font-family="Liberation Sans, sans-serif" font-size="10.4" fill="#000" stroke="#000" stroke-width="0.2"><tspan font-size="11.4">=</tspan><tspan dx="1.2">170</tspan></text></g>
<circle cx="157.40" cy="152.41" r="1.05" fill="none" stroke="#000" stroke-width="0.75"/>
<line x1="73.5" y1="165.77" x2="117.0" y2="165.77" stroke="#480890" stroke-width="1.2"/>
<text transform="translate(123.7,169.17) scale(1.14,1)" font-family="Liberation Sans, sans-serif" font-style="italic" font-size="8.6" fill="#000" stroke="#000" stroke-width="0.2">α</text>
<g transform="translate(130.15,169.17) scale(0.93,1)"><text font-family="Liberation Sans, sans-serif" font-size="10.4" fill="#000" stroke="#000" stroke-width="0.2"><tspan font-size="11.4">=</tspan><tspan dx="1.2">160</tspan></text></g>
<circle cx="157.40" cy="163.87" r="1.05" fill="none" stroke="#000" stroke-width="0.75"/>
<line x1="73.5" y1="177.23" x2="117.0" y2="177.23" stroke="#4a22e0" stroke-width="1.2"/>
<text transform="translate(123.7,180.63) scale(1.14,1)" font-family="Liberation Sans, sans-serif" font-style="italic" font-size="8.6" fill="#000" stroke="#000" stroke-width="0.2">α</text>
<g transform="translate(130.15,180.63) scale(0.93,1)"><text font-family="Liberation Sans, sans-serif" font-size="10.4" fill="#000" stroke="#000" stroke-width="0.2"><tspan font-size="11.4">=</tspan><tspan dx="1.2">150</tspan></text></g>
<circle cx="157.40" cy="175.33" r="1.05" fill="none" stroke="#000" stroke-width="0.75"/>
<line x1="73.5" y1="188.69" x2="117.0" y2="188.69" stroke="#0606ff" stroke-width="1.2"/>
<text transform="translate(123.7,192.09) scale(1.14,1)" font-family="Liberation Sans, sans-serif" font-style="italic" font-size="8.6" fill="#000" stroke="#000" stroke-width="0.2">α</text>
<g transform="translate(130.15,192.09) scale(0.93,1)"><text font-family="Liberation Sans, sans-serif" font-size="10.4" fill="#000" stroke="#000" stroke-width="0.2"><tspan font-size="11.4">=</tspan><tspan dx="1.2">140</tspan></text></g>
<circle cx="157.40" cy="186.79" r="1.05" fill="none" stroke="#000" stroke-width="0.75"/>
<line x1="73.5" y1="200.15" x2="117.0" y2="200.15" stroke="#0c52ff" stroke-width="1.2"/>
<text transform="translate(123.7,203.55) scale(1.14,1)" font-family="Liberation Sans, sans-serif" font-style="italic" font-size="8.6" fill="#000" stroke="#000" stroke-width="0.2">α</text>
<g transform="translate(130.15,203.55) scale(0.93,1)"><text font-family="Liberation Sans, sans-serif" font-size="10.4" fill="#000" stroke="#000" stroke-width="0.2"><tspan font-size="11.4">=</tspan><tspan dx="1.2">130</tspan></text></g>
<circle cx="157.40" cy="198.25" r="1.05" fill="none" stroke="#000" stroke-width="0.75"/>
<line x1="73.5" y1="211.61" x2="117.0" y2="211.61" stroke="#1294ff" stroke-width="1.2"/>
<text transform="translate(123.7,215.01) scale(1.14,1)" font-family="Liberation Sans, sans-serif" font-style="italic" font-size="8.6" fill="#000" stroke="#000" stroke-width="0.2">α</text>
<g transform="translate(130.15,215.01) scale(0.93,1)"><text font-family="Liberation Sans, sans-serif" font-size="10.4" fill="#000" stroke="#000" stroke-width="0.2"><tspan font-size="11.4">=</tspan><tspan dx="1.2">120</tspan></text></g>
<circle cx="157.40" cy="209.71" r="1.05" fill="none" stroke="#000" stroke-width="0.75"/>
<line x1="73.5" y1="223.07" x2="117.0" y2="223.07" stroke="#10d4ff" stroke-width="1.2"/>
<text transform="translate(123.7,226.47) scale(1.14,1)" font-family="Liberation Sans, sans-serif" font-style="italic" font-size="8.6" fill="#000" stroke="#000" stroke-width="0.2">α</text>
<g transform="translate(130.15,226.47) scale(0.93,1)"><text font-family="Liberation Sans, sans-serif" font-size="10.4" fill="#000" stroke="#000" stroke-width="0.2"><tspan font-size="11.4">=</tspan><tspan dx="1.2">110</tspan></text></g>
<circle cx="157.40" cy="221.17" r="1.05" fill="none" stroke="#000" stroke-width="0.75"/>
<line x1="73.5" y1="234.53" x2="117.0" y2="234.53" stroke="#10f0c6" stroke-width="1.2"/>
<text transform="translate(123.7,237.93) scale(1.14,1)" font-family="Liberation Sans, sans-serif" font-style="italic" font-size="8.6" fill="#000" stroke="#000" stroke-width="0.2">α</text>
<g transform="translate(130.15,237.93) scale(0.93,1)"><text font-family="Liberation Sans, sans-serif" font-size="10.4" fill="#000" stroke="#000" stroke-width="0.2"><tspan font-size="11.4">=</tspan><tspan dx="1.2">100</tspan></text></g>
<circle cx="157.40" cy="232.63" r="1.05" fill="none" stroke="#000" stroke-width="0.75"/>
<line x1="73.5" y1="245.99" x2="117.0" y2="245.99" stroke="#0eea7a" stroke-width="1.2"/>
<text transform="translate(123.7,249.39) scale(1.14,1)" font-family="Liberation Sans, sans-serif" font-style="italic" font-size="8.6" fill="#000" stroke="#000" stroke-width="0.2">α</text>
<g transform="translate(130.15,249.39) scale(0.93,1)"><text font-family="Liberation Sans, sans-serif" font-size="10.4" fill="#000" stroke="#000" stroke-width="0.2"><tspan font-size="11.4">=</tspan><tspan dx="1.2">90</tspan></text></g>
<circle cx="152.00" cy="244.09" r="1.05" fill="none" stroke="#000" stroke-width="0.75"/>
<line x1="73.5" y1="257.45" x2="117.0" y2="257.45" stroke="#0ce624" stroke-width="1.2"/>
<text transform="translate(123.7,260.85) scale(1.14,1)" font-family="Liberation Sans, sans-serif" font-style="italic" font-size="8.6" fill="#000" stroke="#000" stroke-width="0.2">α</text>
<g transform="translate(130.15,260.85) scale(0.93,1)"><text font-family="Liberation Sans, sans-serif" font-size="10.4" fill="#000" stroke="#000" stroke-width="0.2"><tspan font-size="11.4">=</tspan><tspan dx="1.2">80</tspan></text></g>
<circle cx="152.00" cy="255.55" r="1.05" fill="none" stroke="#000" stroke-width="0.75"/>
<line x1="73.5" y1="268.91" x2="117.0" y2="268.91" stroke="#34f00c" stroke-width="1.2"/>
<text transform="translate(123.7,272.31) scale(1.14,1)" font-family="Liberation Sans, sans-serif" font-style="italic" font-size="8.6" fill="#000" stroke="#000" stroke-width="0.2">α</text>
<g transform="translate(130.15,272.31) scale(0.93,1)"><text font-family="Liberation Sans, sans-serif" font-size="10.4" fill="#000" stroke="#000" stroke-width="0.2"><tspan font-size="11.4">=</tspan><tspan dx="1.2">70</tspan></text></g>
<circle cx="152.00" cy="267.01" r="1.05" fill="none" stroke="#000" stroke-width="0.75"/>
<line x1="73.5" y1="280.37" x2="117.0" y2="280.37" stroke="#7af008" stroke-width="1.2"/>
<text transform="translate(123.7,283.77) scale(1.14,1)" font-family="Liberation Sans, sans-serif" font-style="italic" font-size="8.6" fill="#000" stroke="#000" stroke-width="0.2">α</text>
<g transform="translate(130.15,283.77) scale(0.93,1)"><text font-family="Liberation Sans, sans-serif" font-size="10.4" fill="#000" stroke="#000" stroke-width="0.2"><tspan font-size="11.4">=</tspan><tspan dx="1.2">60</tspan></text></g>
<circle cx="152.00" cy="278.47" r="1.05" fill="none" stroke="#000" stroke-width="0.75"/>
<line x1="73.5" y1="291.83" x2="117.0" y2="291.83" stroke="#b6f406" stroke-width="1.2"/>
<text transform="translate(123.7,295.23) scale(1.14,1)" font-family="Liberation Sans, sans-serif" font-style="italic" font-size="8.6" fill="#000" stroke="#000" stroke-width="0.2">α</text>
<g transform="translate(130.15,295.23) scale(0.93,1)"><text font-family="Liberation Sans, sans-serif" font-size="10.4" fill="#000" stroke="#000" stroke-width="0.2"><tspan font-size="11.4">=</tspan><tspan dx="1.2">50</tspan></text></g>
<circle cx="152.00" cy="289.93" r="1.05" fill="none" stroke="#000" stroke-width="0.75"/>
<line x1="73.5" y1="303.29" x2="117.0" y2="303.29" stroke="#ffe606" stroke-width="1.2"/>
<text transform="translate(123.7,306.69) scale(1.14,1)" font-family="Liberation Sans, sans-serif" font-style="italic" font-size="8.6" fill="#000" stroke="#000" stroke-width="0.2">α</text>
<g transform="translate(130.15,306.69) scale(0.93,1)"><text font-family="Liberation Sans, sans-serif" font-size="10.4" fill="#000" stroke="#000" stroke-width="0.2"><tspan font-size="11.4">=</tspan><tspan dx="1.2">40</tspan></text></g>
<circle cx="152.00" cy="301.39" r="1.05" fill="none" stroke="#000" stroke-width="0.75"/>
<line x1="73.5" y1="314.75" x2="117.0" y2="314.75" stroke="#ff9c06" stroke-width="1.2"/>
<text transform="translate(123.7,318.15) scale(1.14,1)" font-family="Liberation Sans, sans-serif" font-style="italic" font-size="8.6" fill="#000" stroke="#000" stroke-width="0.2">α</text>
<g transform="translate(130.15,318.15) scale(0.93,1)"><text font-family="Liberation Sans, sans-serif" font-size="10.4" fill="#000" stroke="#000" stroke-width="0.2"><tspan font-size="11.4">=</tspan><tspan dx="1.2">30</tspan></text></g>
<circle cx="152.00" cy="312.85" r="1.05" fill="none" stroke="#000" stroke-width="0.75"/>
<line x1="73.5" y1="326.21" x2="117.0" y2="326.21" stroke="#ff5c0c" stroke-width="1.2"/>
<text transform="translate(123.7,329.61) scale(1.14,1)" font-family="Liberation Sans, sans-serif" font-style="italic" font-size="8.6" fill="#000" stroke="#000" stroke-width="0.2">α</text>
<g transform="translate(130.15,329.61) scale(0.93,1)"><text font-family="Liberation Sans, sans-serif" font-size="10.4" fill="#000" stroke="#000" stroke-width="0.2"><tspan font-size="11.4">=</tspan><tspan dx="1.2">20</tspan></text></g>
<circle cx="152.00" cy="324.31" r="1.05" fill="none" stroke="#000" stroke-width="0.75"/>
<line x1="73.5" y1="337.67" x2="117.0" y2="337.67" stroke="#ff0404" stroke-width="1.2"/>
<text transform="translate(123.7,341.07) scale(1.14,1)" font-family="Liberation Sans, sans-serif" font-style="italic" font-size="8.6" fill="#000" stroke="#000" stroke-width="0.2">α</text>
<g transform="translate(130.15,341.07) scale(0.93,1)"><text font-family="Liberation Sans, sans-serif" font-size="10.4" fill="#000" stroke="#000" stroke-width="0.2"><tspan font-size="11.4">=</tspan><tspan dx="1.2">10</tspan></text></g>
<circle cx="152.00" cy="335.77" r="1.05" fill="none" stroke="#000" stroke-width="0.75"/>
<path d="M141.85,381.80 L140.36,381.80 L140.36,373.72 L137.47,373.72 L137.47,372.71 C139.15,372.65 140.56,371.88 140.85,370.46 L141.85,370.46 Z" fill="#000"/>
<text transform="translate(145.20,381.80) scale(1.0625,1)" text-anchor="start" font-family="Liberation Sans, sans-serif" font-size="16" fill="#000" >0</text>
<path d="M40.40,279.00 L38.90,279.00 L38.90,270.92 L36.01,270.92 L36.01,269.91 C37.70,269.85 39.11,269.08 39.40,267.66 L40.40,267.66 Z" fill="#000"/>
<text transform="translate(53.20,279.00) scale(1.0625,1)" text-anchor="end" font-family="Liberation Sans, sans-serif" font-size="16" fill="#000" >0</text>
<text transform="translate(245.70,381.80) scale(1.0625,1)" text-anchor="middle" font-family="Liberation Sans, sans-serif" font-size="16" fill="#000" >20</text>
<text transform="translate(53.20,184.25) scale(1.0625,1)" text-anchor="end" font-family="Liberation Sans, sans-serif" font-size="16" fill="#000" >20</text>
<text transform="translate(346.20,381.80) scale(1.0625,1)" text-anchor="middle" font-family="Liberation Sans, sans-serif" font-size="16" fill="#000" >30</text>
<text transform="translate(53.20,89.50) scale(1.0625,1)" text-anchor="end" font-family="Liberation Sans, sans-serif" font-size="16" fill="#000" >30</text>
<text transform="translate(114.40,407.20) scale(1.0625,1)" text-anchor="start" font-family="Liberation Sans, sans-serif" font-size="16" fill="#000" >Comoving Distance</text>
<text transform="translate(265.30,407.20) scale(1.0625,1)" text-anchor="start" font-family="Liberation Sans, sans-serif" font-size="16" fill="#000" >r</text>
<text transform="translate(271.00,412.00) scale(1.0625,1)" text-anchor="start" font-family="Liberation Sans, sans-serif" font-size="11" fill="#000" >A</text>
<text transform="translate(280.00,407.20) scale(1.0625,1)" text-anchor="start" font-family="Liberation Sans, sans-serif" font-size="16.8" fill="#000" >=</text>
<text transform="translate(291.40,407.20) scale(1.0625,1)" text-anchor="start" font-family="Liberation Sans, sans-serif" font-size="16" fill="#000" >R</text>
<text transform="translate(303.70,412.00) scale(1.0625,1)" text-anchor="start" font-family="Liberation Sans, sans-serif" font-size="11" fill="#000" >o</text>
<text transform="translate(313.10,408.30) scale(1.0625,1)" text-anchor="start" font-family="Liberation Serif, serif" font-size="19" fill="#000" font-style="italic">χ</text>
<text transform="translate(321.60,412.00) scale(1.0625,1)" text-anchor="start" font-family="Liberation Sans, sans-serif" font-size="11" fill="#000" >A</text>
<text transform="translate(332.60,407.20) scale(1.0625,1)" text-anchor="start" font-family="Liberation Sans, sans-serif" font-size="16" fill="#000" >[Glyr]</text>
<text transform="translate(15.90,306.60) rotate(-90) scale(1.0625,1)" text-anchor="start" font-family="Liberation Sans, sans-serif" font-size="16" fill="#000" >Comoving Distance</text>
<text transform="translate(15.90,155.70) rotate(-90) scale(1.0625,1)" text-anchor="start" font-family="Liberation Sans, sans-serif" font-size="16" fill="#000" >r</text>
<text transform="translate(20.70,150.00) rotate(-90) scale(1.0625,1)" text-anchor="start" font-family="Liberation Sans, sans-serif" font-size="11" fill="#000" >B</text>
<text transform="translate(15.90,141.00) rotate(-90) scale(1.0625,1)" text-anchor="start" font-family="Liberation Sans, sans-serif" font-size="16.8" fill="#000" >=</text>
<text transform="translate(15.90,129.60) rotate(-90) scale(1.0625,1)" text-anchor="start" font-family="Liberation Sans, sans-serif" font-size="16" fill="#000" >R</text>
<text transform="translate(20.70,117.30) rotate(-90) scale(1.0625,1)" text-anchor="start" font-family="Liberation Sans, sans-serif" font-size="11" fill="#000" >o</text>
<text transform="translate(17.00,107.90) rotate(-90) scale(1.0625,1)" text-anchor="start" font-family="Liberation Serif, serif" font-size="19" fill="#000" font-style="italic">χ</text>
<text transform="translate(20.70,99.40) rotate(-90) scale(1.0625,1)" text-anchor="start" font-family="Liberation Sans, sans-serif" font-size="11" fill="#000" >B</text>
<text transform="translate(15.90,88.40) rotate(-90) scale(1.0625,1)" text-anchor="start" font-family="Liberation Sans, sans-serif" font-size="16" fill="#000" >[Glyr]</text>
</svg>
</body></html>
